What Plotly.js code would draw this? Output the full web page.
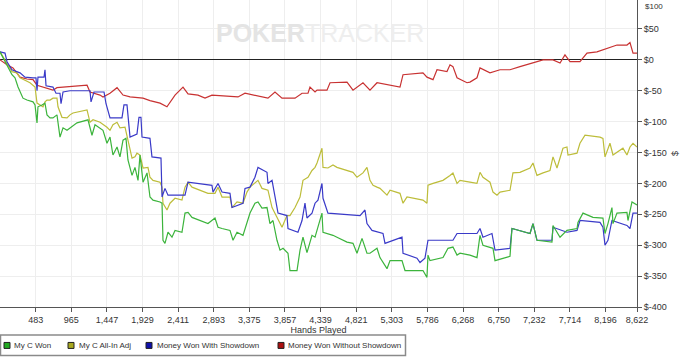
<!DOCTYPE html>
<html>
<head>
<meta charset="utf-8">
<script src="https://cdn.plot.ly/plotly-3.0.1.min.js"></script>
<style>html,body{margin:0;padding:0;background:#fff;}#chart{width:700px;height:358px;}</style>
</head>
<body>
<div id="chart"></div>
<script>
// ---- Data (hands played, dollars) ----
const seriesNames = ['My C Won', 'My C All-In Adj', 'Money Won With Showdown', 'Money Won Without Showdown'];

const handsWon = [0,95,162,203,244,311,365,447,474,501,514,568,609,636,677,717,771,812,853,907,1015,1042,1191,1245,1286,1354,1394,1448,1489,1529,1584,1624,1665,1705,1732,1787,1827,1868,1895,1936,1990,2030,2071,2166,2193,2206,2233,2274,2328,2369,2463,2504,2545,2599,2775,2815,2910,2951,3005,3113,3154,3208,3289,3343,3384,3451,3492,3546,3614,3654,3695,3749,3790,3831,3898,3925,4020,4061,4101,4155,4223,4264,4304,4358,4372,4439,4507,4561,4697,4778,4832,4900,4967,5008,5103,5143,5238,5279,5441,5482,5725,5779,5793,5820,5996,6064,6131,6186,6226,6361,6456,6497,6537,6673,6700,6903,6930,7174,7214,7268,7471,7485,7580,7674,7810,7823,7891,8026,8161,8189,8229,8283,8297,8351,8486,8500,8554,8622];
const myCWon = [13,-8,-24,-29,-44,-62,-65,-68,-73,-102,-76,-73,-70,-89,-94,-94,-89,-125,-110,-114,-105,-102,-97,-122,-105,-110,-114,-135,-125,-154,-141,-157,-130,-127,-162,-187,-174,-195,-154,-198,-183,-222,-227,-230,-232,-292,-297,-279,-287,-276,-279,-248,-247,-255,-263,-265,-256,-271,-273,-276,-292,-279,-284,-263,-248,-232,-230,-240,-239,-265,-260,-292,-308,-305,-313,-341,-341,-308,-287,-312,-284,-287,-271,-248,-279,-281,-284,-287,-295,-297,-313,-289,-313,-313,-305,-320,-338,-325,-325,-341,-341,-352,-316,-325,-320,-305,-303,-316,-313,-316,-320,-284,-300,-305,-325,-318,-273,-281,-265,-292,-295,-268,-287,-276,-273,-263,-248,-255,-256,-281,-265,-239,-265,-248,-247,-260,-230,-235];

const handsAllIn = [0,95,162,230,271,406,447,474,501,541,582,609,636,677,717,771,785,839,907,947,988,1178,1218,1259,1354,1448,1489,1529,1584,1624,1692,1732,1787,1827,1854,1895,1936,2003,2030,2071,2166,2193,2206,2260,2301,2369,2463,2504,2545,2599,2775,2815,2910,2951,3005,3113,3140,3208,3289,3343,3384,3451,3492,3546,3627,3682,3722,3817,3884,3925,3993,4061,4101,4169,4223,4264,4291,4358,4372,4439,4507,4561,4778,4832,4913,4967,5008,5049,5103,5143,5238,5279,5414,5455,5509,5725,5779,5793,5861,5996,6091,6131,6186,6226,6361,6456,6497,6537,6632,6673,6727,6768,6903,6943,7038,7174,7214,7268,7350,7444,7485,7539,7620,7674,7688,7810,7850,7918,8121,8161,8189,8256,8297,8351,8432,8486,8527,8568,8622];
const myCAllInAdj = [13,-5,-19,-21,-29,-37,-41,-44,-70,-73,-76,-68,-65,-65,-62,-62,-76,-93,-94,-89,-86,-81,-101,-97,-101,-109,-114,-105,-101,-110,-109,-130,-159,-157,-151,-154,-175,-174,-190,-195,-198,-206,-232,-243,-232,-224,-227,-206,-198,-206,-214,-216,-216,-206,-222,-222,-239,-230,-232,-214,-206,-200,-195,-208,-211,-239,-248,-271,-252,-252,-239,-222,-195,-190,-179,-174,-167,-143,-174,-175,-170,-174,-182,-190,-183,-174,-195,-203,-206,-208,-219,-211,-216,-232,-222,-227,-232,-203,-200,-195,-187,-183,-200,-195,-198,-200,-182,-190,-198,-214,-219,-214,-211,-183,-182,-175,-167,-187,-183,-179,-157,-175,-143,-141,-154,-151,-135,-122,-125,-127,-157,-135,-154,-149,-143,-154,-141,-135,-141];

const handsWithSD = [0,68,95,162,271,338,447,487,501,514,596,609,623,717,758,812,826,853,947,1218,1232,1272,1408,1435,1489,1651,1678,1719,1760,1854,1881,1908,1922,2030,2057,2179,2193,2233,2274,2504,2545,2869,2883,2951,3005,3113,3140,3289,3316,3384,3451,3492,3614,3627,3682,3722,3763,3884,3898,4033,4088,4128,4155,4223,4264,4304,4358,4372,4439,4873,4940,4967,5035,5184,5211,5441,5455,5644,5685,5752,5793,6131,6186,6361,6456,6497,6537,6659,6700,6903,6930,7174,7214,7268,7471,7485,7674,7810,7850,8121,8161,8189,8229,8283,8486,8527,8568,8622];
const moneyWithSD = [13,11,-3,-16,-21,-28,-29,-29,-50,-28,-28,-16,-42,-44,-54,-54,-71,-52,-50,-50,-68,-52,-52,-71,-94,-94,-73,-73,-125,-120,-93,-93,-125,-127,-157,-159,-222,-208,-219,-219,-198,-203,-214,-200,-214,-216,-239,-232,-208,-206,-190,-174,-182,-200,-195,-222,-248,-252,-273,-279,-260,-232,-256,-248,-232,-227,-200,-224,-248,-252,-243,-265,-276,-281,-297,-287,-313,-321,-328,-321,-292,-292,-281,-281,-281,-273,-287,-281,-308,-305,-273,-281,-265,-292,-292,-271,-279,-276,-260,-263,-271,-300,-292,-260,-268,-273,-248,-248];

const handsWithoutSD = [0,95,176,271,365,447,501,609,717,771,907,1042,1178,1218,1354,1394,1489,1584,1665,1760,1936,2030,2166,2260,2369,2477,2545,2680,2775,2869,3045,3221,3316,3451,3546,3627,3722,3817,3993,4088,4169,4196,4264,4291,4426,4467,4697,4778,4913,5008,5103,5279,5414,5455,5590,5725,5779,5861,5915,6050,6091,6131,6186,6321,6361,6456,6497,6632,6768,6903,7038,7174,7268,7350,7485,7580,7647,7715,7850,7945,8080,8216,8351,8486,8527,8568,8622];
const moneyWithoutSD = [0,-8,-13,-28,-31,-32,-41,-45,-49,-45,-44,-42,-41,-52,-57,-60,-54,-45,-57,-60,-62,-66,-70,-76,-57,-44,-55,-57,-62,-57,-58,-60,-54,-57,-60,-62,-52,-62,-62,-54,-54,-44,-52,-49,-49,-37,-36,-49,-37,-49,-37,-41,-44,-24,-23,-21,-28,-32,-16,-19,-8,-11,-29,-37,-36,-29,-13,-21,-16,-16,-11,-6,-3,0,0,-5,8,-3,-3,11,13,19,24,24,28,11,11];

const xTickVals = [483,965,1447,1929,2411,2893,3375,3857,4339,4821,5303,5786,6268,6750,7232,7714,8196,8622];
const xTickText = ['483','965','1,447','1,929','2,411','2,893','3,375','3,857','4,339','4,821','5,303','5,786','6,268','6,750','7,232','7,714','8,196','8,622'];
const yTickVals = [-400,-350,-300,-250,-200,-150,-100,-50,0,50];
const yTickText = ['$-400','$-350','$-300','$-250','$-200','$-150','$-100','$-50','$0','$50'];

const lineColors = ['#3cb43c', '#bdbd3a', '#3a3ac8', '#c83232'];
const swatchColors = ['#22aa22', '#a8a820', '#1010aa', '#aa1010'];

// ---- Traces ----
const xs = [handsWon, handsAllIn, handsWithSD, handsWithoutSD];
const ys = [myCWon, myCAllInAdj, moneyWithSD, moneyWithoutSD];
const order = [3, 1, 2, 0];
const traces = order.map(i => ({
  type: 'scatter', mode: 'lines', name: seriesNames[i],
  x: xs[i], y: ys[i],
  line: {color: lineColors[i], width: 1.2},
  showlegend: false, hoverinfo: 'x+y'
}));

// ---- Custom legend (box, swatches, labels) ----
const plotW = 637, plotH = 307.5;
const px = v => v / plotW;
const py = v => (plotH - v) / plotH;
const legendSwatchX = [4, 68, 146, 278];
const legendTextX = [12, 77, 155, 286];
const shapes = [{
  type: 'rect', xref: 'paper', yref: 'paper',
  x0: px(0.5), x1: px(405.5), y0: py(356), y1: py(335.5),
  line: {color: '#8a8a8a', width: 1.5}, fillcolor: 'rgba(0,0,0,0)'
}];
const annotations = [];
for (let i = 0; i < 4; i++) {
  shapes.push({
    type: 'rect', xref: 'paper', yref: 'paper',
    x0: px(legendSwatchX[i]), x1: px(legendSwatchX[i] + 6),
    y0: py(349), y1: py(343),
    line: {color: '#222', width: 1}, fillcolor: swatchColors[i]
  });
  annotations.push({
    xref: 'paper', yref: 'paper', x: px(legendTextX[i]), y: py(346),
    xanchor: 'left', yanchor: 'middle', showarrow: false,
    text: seriesNames[i], font: {family: 'Liberation Sans, Arial, sans-serif', size: 8, color: '#333'}
  });
}
// watermark
annotations.push({
  xref: 'paper', yref: 'paper', x: px(320), y: py(33), xanchor: 'center', yanchor: 'middle',
  showarrow: false,
  text: '<b><span style="color:#e4e4e4">POKER</span></b><span style="color:#eeeeee">TRACKER</span>',
  font: {family: 'Liberation Sans, Arial, sans-serif', size: 25, color: '#e8e8e8'}
});
// top tick label, just inside the page edge
annotations.push({
  xref: 'paper', yref: 'paper', x: px(643), y: py(0), xanchor: 'left', yanchor: 'top',
  showarrow: false, text: '$100',
  font: {family: 'Liberation Sans, Arial, sans-serif', size: 8, color: '#333'}
});

const layout = {
  width: 700, height: 358,
  margin: {l: 0, r: 63, t: 0, b: 50.5, pad: 0},
  paper_bgcolor: '#fff', plot_bgcolor: '#fff',
  showlegend: false,
  font: {family: 'Liberation Sans, Arial, sans-serif', size: 9, color: '#333'},
  xaxis: {
    range: [0, 8622], tickmode: 'array', tickvals: xTickVals, ticktext: xTickText,
    showgrid: true, gridcolor: '#eeeeee', gridwidth: 1, zeroline: false,
    showline: true, linecolor: '#555', linewidth: 1,
    ticks: 'outside', ticklen: 4, tickcolor: '#555',
    tickfont: {size: 9, color: '#333'},
    title: {text: 'Hands Played', font: {size: 9, color: '#333'}, standoff: 1},
    automargin: false, fixedrange: true
  },
  yaxis: {
    side: 'right', range: [-400, 96.9], tickmode: 'array', tickvals: yTickVals, ticktext: yTickText,
    showgrid: true, gridcolor: '#eeeeee', gridwidth: 1,
    zeroline: true, zerolinecolor: '#222', zerolinewidth: 1,
    showline: true, linecolor: '#555', linewidth: 1,
    ticks: 'outside', ticklen: 4, tickcolor: '#555',
    tickfont: {size: 9, color: '#333'},
    title: {text: '$', font: {size: 9, color: '#333'}, standoff: 5},
    automargin: false, fixedrange: true
  },
  shapes: shapes,
  annotations: annotations
};

Plotly.newPlot('chart', traces, layout, {displayModeBar: false, staticPlot: true});
</script>
</body>
</html>
